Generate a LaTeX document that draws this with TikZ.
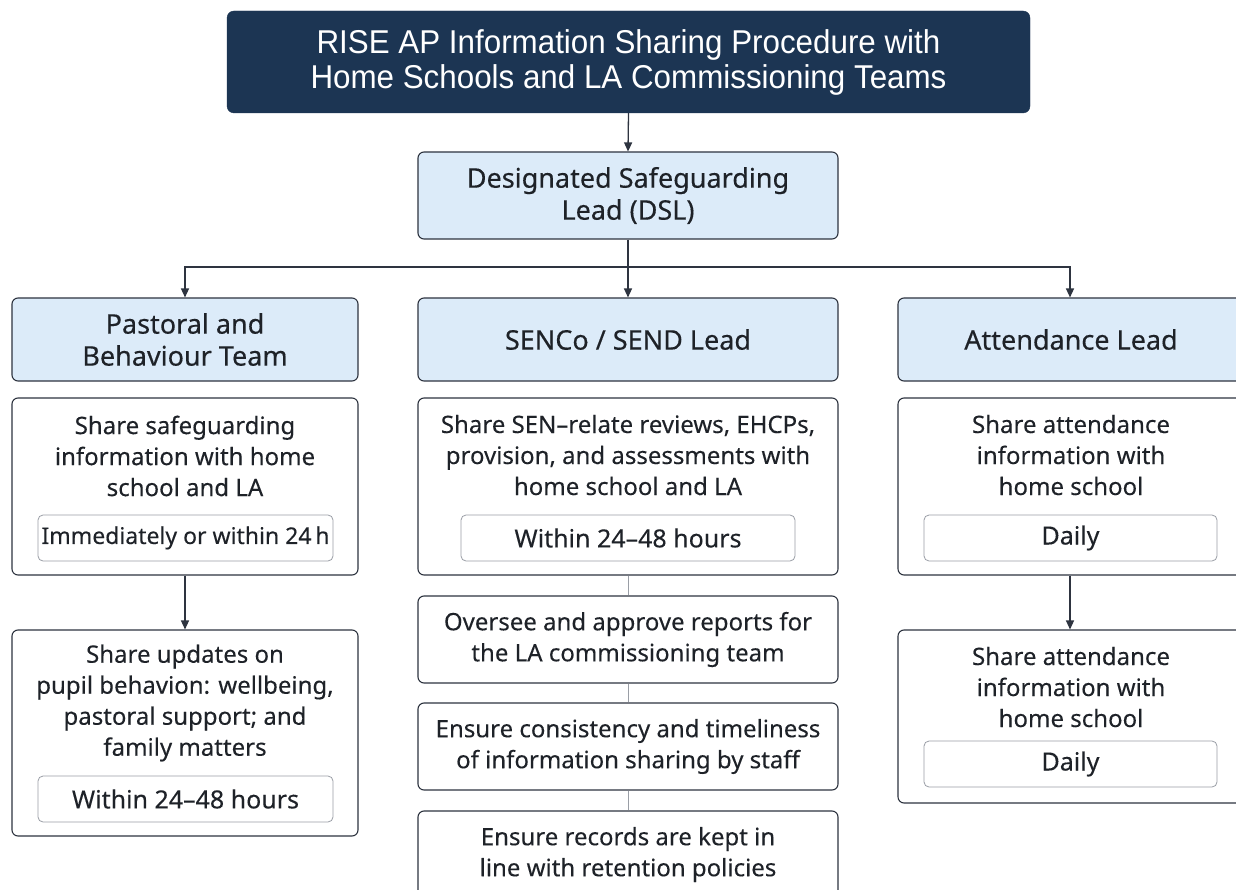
\documentclass[tikz,border=0pt]{standalone}
\usepackage{fontspec}
\setmainfont{Noto Sans}
\newfontfamily\titlefont[FakeStretch=0.95]{Liberation Sans}
\newfontfamily\hdrfont[FakeBold=0.35]{Noto Sans}
\newfontfamily\bodyfont[FakeBold=0.15]{Noto Sans}
\usetikzlibrary{arrows.meta}
\definecolor{navy}{HTML}{1C3553}
\definecolor{lblue}{HTML}{DCEBF9}
\definecolor{edge}{HTML}{2E3440}
\definecolor{innergray}{HTML}{9A9EA6}
\definecolor{ink}{HTML}{1E2228}
\tikzset{
  titlebox/.style={draw=navy, fill=navy, rounded corners=7pt, text=white, align=center,
    font=\titlefont\fontsize{33}{35}\selectfont, inner sep=0pt},
  hdrbox/.style={draw=edge, fill=lblue, rounded corners=6pt, line width=1.1pt, align=center,
    text=ink, font=\hdrfont\fontsize{27}{32}\selectfont, inner sep=0pt},
  whitebox/.style={draw=edge, fill=white, rounded corners=6pt, line width=1.1pt, align=center,
    text=ink, font=\bodyfont\fontsize{24}{31}\selectfont, inner sep=0pt},
  bodytext/.style={align=center, text=ink, font=\bodyfont\fontsize{24}{31}\selectfont, inner sep=0pt},
  timebox/.style={draw=innergray, fill=white, rounded corners=5pt, line width=0.8pt,
    text=ink, font=\bodyfont\fontsize{25}{28}\selectfont, inner sep=0pt},
  conn/.style={line width=1.3pt, draw=edge},
  arr/.style={conn, -{Triangle[length=9pt,width=8pt]}}
}
\begin{document}
\begin{tikzpicture}[x=1pt,y=-1pt]
\useasboundingbox[fill=white] (0,0) rectangle (1236,890);

% title and DSL
\node[titlebox, minimum width=803, minimum height=102] (title) at (628.5,62)
  {RISE AP Information Sharing Procedure with\\Home Schools and LA Commissioning Teams};
\node[hdrbox, minimum width=420, minimum height=87] (dsl) at (628,195.5)
  {Designated Safeguarding\\Lead (DSL)};

% team headers
\node[hdrbox, minimum width=346, minimum height=83] (past) at (185,339.5)
  {Pastoral and\\Behaviour Team};
\node[hdrbox, minimum width=420, minimum height=83] (senco) at (628,339.5)
  {SENCo / SEND Lead};
\node[hdrbox, minimum width=346, minimum height=83] (att) at (1071,339.5)
  {Attendance Lead};

% pastoral column
\node[whitebox, minimum width=346, minimum height=177] (p1) at (185,486.5) {};
\node[bodytext] (p1t) at (185,456) {Share safeguarding\\information with home\\school and LA};
\node[timebox, minimum width=295, minimum height=46, font=\bodyfont\fontsize{23}{28}\selectfont] (p1d) at (185.5,538) {Immediately or within 24\,h};
\node[whitebox, minimum width=346, minimum height=206] (p2) at (185,733) {};
\node[bodytext] (p2t) at (185,703) {Share updates on\\pupil behavion: wellbeing,\\pastoral support; and\\family matters};
\node[timebox, minimum width=295, minimum height=46] (p2d) at (185.5,799) {Within 24–48 hours};

% SENCo column
\node[whitebox, minimum width=420, minimum height=177] (s1) at (628,486.5) {};
\node[bodytext] (s1t) at (628,455) {Share SEN–relate reviews, EHCPs,\\provision, and assessments with\\home school and LA};
\node[timebox, minimum width=334, minimum height=46] (s1d) at (628,538) {Within 24–48 hours};
\node[whitebox, minimum width=420, minimum height=87] (s2) at (628,639.5)
  {Oversee and approve reports for\\the LA commissioning team};
\node[whitebox, minimum width=420, minimum height=87] (s3) at (628,746.5)
  {Ensure consistency and timeliness\\of information sharing by staff};
\node[whitebox, minimum width=420, minimum height=87] (s4) at (628,854.5)
  {Ensure records are kept in\\line with retention policies};

% attendance column
\node[whitebox, minimum width=346, minimum height=177] (a1) at (1071,486.5) {};
\node[bodytext] (a1t) at (1071,455) {Share attendance\\information with\\home school};
\node[timebox, minimum width=293, minimum height=46] (a1d) at (1070.5,538) {Daily};
\node[whitebox, minimum width=346, minimum height=173] (a2) at (1071,716.5) {};
\node[bodytext] (a2t) at (1071,687) {Share attendance\\information with\\home school};
\node[timebox, minimum width=293, minimum height=46] (a2d) at (1070.5,764) {Daily};

% connectors
\coordinate (split) at (628,267);
\draw[arr] (title.south) -- (dsl.north);
\draw[conn] (dsl.south) -- (split);
\draw[arr] (split) -| (past.north);
\draw[arr] (split) -- (senco.north);
\draw[arr] (split) -| ([xshift=-1pt]att.north);
\draw[arr] (p1.south) -- (p2.north);
\draw[arr] ([xshift=-1pt]a1.south) -- ([xshift=-1pt]a2.north);
\draw[conn, line width=0.8pt, draw=innergray] (s1.south) -- (s2.north);
\draw[conn, line width=0.8pt, draw=innergray] (s2.south) -- (s3.north);
\draw[conn, line width=0.8pt, draw=innergray] (s3.south) -- (s4.north);
\end{tikzpicture}
\end{document}
